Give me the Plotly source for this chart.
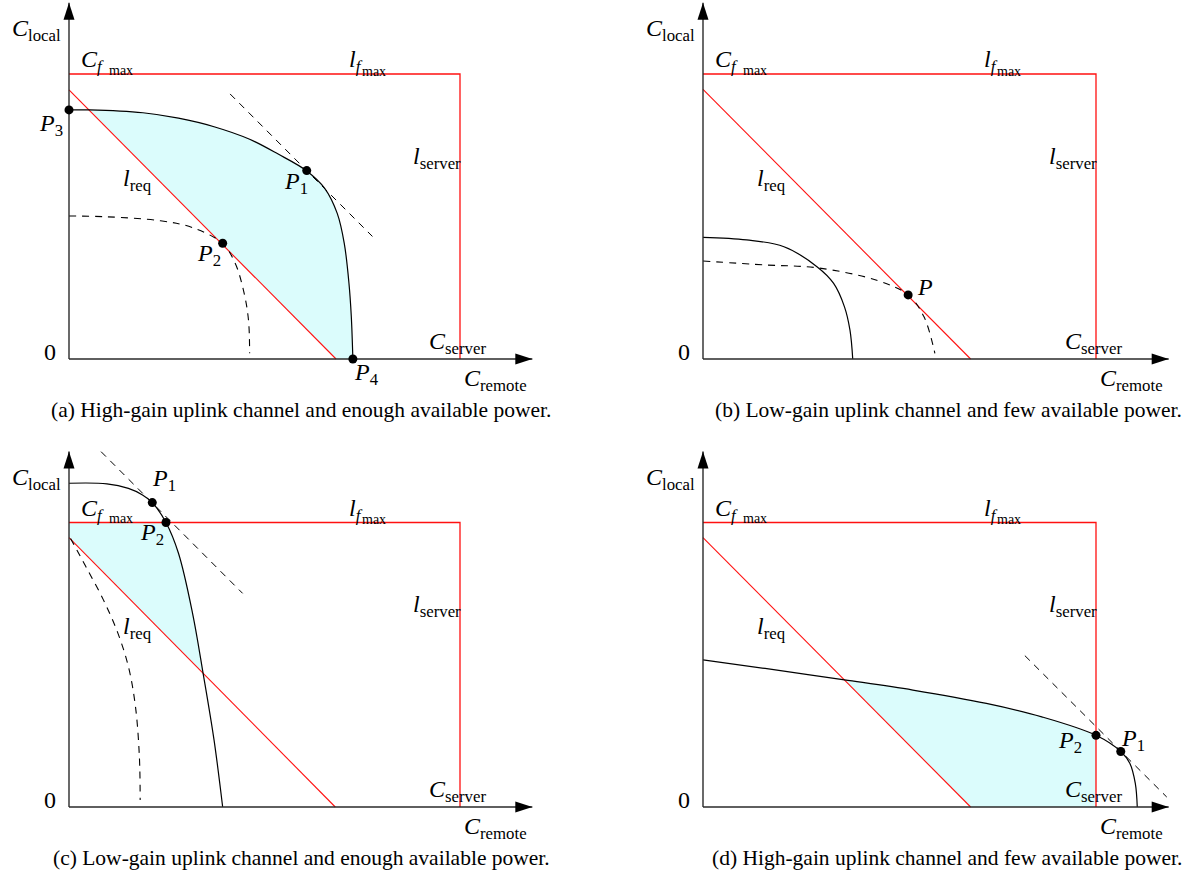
import plotly.graph_objects as go

W, H = 1195, 880

# ---------------- data (normalised units: C_server = 1 on x, C_fmax = 1 on y) ----------------
C_server = 1.0
C_fmax = 1.0
x_axis_end = 1.185
y_axis_end = 1.25

captions = [
    "(a) High-gain uplink channel and enough available power.",
    "(b) Low-gain uplink channel and few available power.",
    "(c) Low-gain uplink channel and enough available power.",
    "(d) High-gain uplink channel and few available power.",
]

# panel (a)
a_req_x = [0.0, 0.683]
a_req_y = [0.944, 0.0]
a_curve_x = [0.0, 0.052, 0.189, 0.280, 0.371, 0.462, 0.535, 0.608, 0.654, 0.686, 0.704, 0.716, 0.722, 0.726]
a_curve_y = [0.874, 0.874, 0.864, 0.845, 0.815, 0.771, 0.719, 0.660, 0.599, 0.511, 0.406, 0.266, 0.149, 0.0]
a_dash_x = [0.0, 0.097, 0.234, 0.316, 0.392, 0.425, 0.448, 0.459, 0.462]
a_dash_y = [0.502, 0.499, 0.485, 0.461, 0.406, 0.336, 0.230, 0.137, 0.020]
a_tan_x = [0.412, 0.776]
a_tan_y = [0.930, 0.430]
a_fill_top_x = a_curve_x[1:]
a_fill_top_y = a_curve_y[1:]
a_fill_base_x = [0.052, 0.683, 0.726]
a_fill_base_y = [0.874, 0.0, 0.0]
a_pt_x = [0.608, 0.393, 0.0, 0.726]
a_pt_y = [0.661, 0.406, 0.874, 0.0]
a_pt_lbl = ["1", "2", "3", "4"]
a_lbl_x = [0.581, 0.358, -0.046, 0.760]
a_lbl_y = [0.618, 0.365, 0.821, -0.053]

# panel (b)
b_req_x = [0.0, 0.681]
b_req_y = [0.946, 0.0]
b_curve_x = [0.0, 0.111, 0.206, 0.290, 0.332, 0.360, 0.374, 0.381]
b_curve_y = [0.427, 0.418, 0.394, 0.324, 0.266, 0.183, 0.101, 0.0]
b_dash_x = [0.0, 0.158, 0.290, 0.440, 0.522, 0.562, 0.590]
b_dash_y = [0.344, 0.330, 0.320, 0.277, 0.225, 0.149, 0.020]
b_pt_x = [0.522]
b_pt_y = [0.225]
b_pt_lbl = [""]
b_lbl_x = [0.565]
b_lbl_y = [0.253]

# panel (c)
c_req_x = [0.0, 0.681]
c_req_y = [0.947, 0.0]
c_curve_x = [0.0, 0.097, 0.152, 0.188, 0.213, 0.248, 0.280, 0.316, 0.343, 0.371, 0.393]
c_curve_y = [1.138, 1.136, 1.120, 1.097, 1.070, 1.000, 0.892, 0.681, 0.470, 0.235, 0.0]
c_dash_x = [0.004, 0.043, 0.088, 0.125, 0.152, 0.170, 0.180, 0.182]
c_dash_y = [0.944, 0.845, 0.728, 0.611, 0.493, 0.353, 0.177, 0.025]
c_tan_x = [0.082, 0.444]
c_tan_y = [1.249, 0.751]
c_fill_top_x = [0.248, 0.280, 0.316, 0.342]
c_fill_top_y = [1.000, 0.892, 0.681, 0.472]
c_fill_base_x = [0.248, 0.0, 0.0, 0.342]
c_fill_base_y = [1.000, 1.000, 0.947, 0.472]
c_pt_x = [0.213, 0.248]
c_pt_y = [1.070, 1.000]
c_pt_lbl = ["1", "2"]
c_lbl_x = [0.243, 0.212]
c_lbl_y = [1.149, 0.960]

# panel (d)
d_req_x = [0.0, 0.681]
d_req_y = [0.947, 0.0]
d_curve_x = [0.0, 0.158, 0.360, 0.534, 0.721, 0.862, 1.0, 1.063, 1.086, 1.100, 1.105]
d_curve_y = [0.517, 0.487, 0.447, 0.411, 0.364, 0.317, 0.252, 0.195, 0.154, 0.083, 0.0]
d_tan_x = [0.819, 1.180]
d_tan_y = [0.532, 0.035]
d_fill_top_x = [0.360, 0.534, 0.721, 0.862, 1.0]
d_fill_top_y = [0.447, 0.411, 0.364, 0.317, 0.252]
d_fill_base_x = [0.360, 0.681, 1.0, 1.0]
d_fill_base_y = [0.447, 0.0, 0.0, 0.252]
d_pt_x = [1.0, 1.063]
d_pt_y = [0.252, 0.195]
d_pt_lbl = ["2", "1"]
d_lbl_x = [0.934, 1.094]
d_lbl_y = [0.228, 0.236]

# ---------------- styling / layout ----------------
SERIF = "Liberation Serif"
FS = 24          # math label size
FS_SS = 14       # second-level subscript size
FS_CAP = 21.5
RED = "#ff1010"
FILL = "#dbfcfc"
AXC = "#2a2a2a"

# panel geometry: origin pixel, pixels per unit, pixel box (x0, x1, y0, y1)
geo = {
    "a": dict(ox=69, oy=359, sx=391, sy=285, box=(0, 560, 0, 420), cap=(301, 410)),
    "b": dict(ox=703, oy=359, sx=393, sy=285, box=(634, 1195, 0, 420), cap=(949, 410)),
    "c": dict(ox=69, oy=807, sx=391, sy=284.5, box=(0, 560, 440, 870), cap=(301, 858)),
    "d": dict(ox=703, oy=807, sx=393, sy=284.5, box=(634, 1195, 440, 870), cap=(947, 858)),
}

panels = {
    "a": dict(req=(a_req_x, a_req_y), curve=(a_curve_x, a_curve_y), dash=(a_dash_x, a_dash_y),
              tan=(a_tan_x, a_tan_y), fill=(a_fill_base_x, a_fill_base_y, a_fill_top_x, a_fill_top_y),
              pts=(a_pt_x, a_pt_y, a_pt_lbl, a_lbl_x, a_lbl_y)),
    "b": dict(req=(b_req_x, b_req_y), curve=(b_curve_x, b_curve_y), dash=(b_dash_x, b_dash_y),
              tan=None, fill=None, pts=(b_pt_x, b_pt_y, b_pt_lbl, b_lbl_x, b_lbl_y)),
    "c": dict(req=(c_req_x, c_req_y), curve=(c_curve_x, c_curve_y), dash=(c_dash_x, c_dash_y),
              tan=(c_tan_x, c_tan_y), fill=(c_fill_base_x, c_fill_base_y, c_fill_top_x, c_fill_top_y),
              pts=(c_pt_x, c_pt_y, c_pt_lbl, c_lbl_x, c_lbl_y)),
    "d": dict(req=(d_req_x, d_req_y), curve=(d_curve_x, d_curve_y), dash=None,
              tan=(d_tan_x, d_tan_y), fill=(d_fill_base_x, d_fill_base_y, d_fill_top_x, d_fill_top_y),
              pts=(d_pt_x, d_pt_y, d_pt_lbl, d_lbl_x, d_lbl_y)),
}

fig = go.Figure()
layout = dict(width=W, height=H, margin=dict(l=0, r=0, t=0, b=0),
              paper_bgcolor="white", plot_bgcolor="white", showlegend=False)
shapes, annotations = [], []

def common(xa, ya):
    return dict(xaxis=xa, yaxis=ya, hoverinfo="skip", showlegend=False)

DASH = "7px,6px"

for i, key in enumerate(["a", "b", "c", "d"]):
    g = geo[key]
    p = panels[key]
    n = "" if i == 0 else str(i + 1)
    xa, ya = "x" + n, "y" + n
    X0, X1, Y0, Y1 = g["box"]
    layout["xaxis" + n] = dict(domain=[X0 / W, X1 / W],
                               range=[(X0 - g["ox"]) / g["sx"], (X1 - g["ox"]) / g["sx"]],
                               visible=False, anchor=ya, fixedrange=True)
    layout["yaxis" + n] = dict(domain=[1 - Y1 / H, 1 - Y0 / H],
                               range=[(g["oy"] - Y1) / g["sy"], (g["oy"] - Y0) / g["sy"]],
                               visible=False, anchor=xa, fixedrange=True)
    c = common(xa, ya)
    # fill region
    if p["fill"]:
        bx, by, tx, ty = p["fill"]
        fig.add_trace(go.Scatter(x=bx, y=by, mode="lines", line=dict(width=0), **c))
        fig.add_trace(go.Scatter(x=tx, y=ty, mode="lines", line=dict(width=0, shape="spline"),
                                 fill="tonexty", fillcolor=FILL, **c))
    # red constraint box
    fig.add_trace(go.Scatter(x=[0, C_server, C_server], y=[C_fmax, C_fmax, 0], mode="lines",
                             line=dict(color=RED, width=1.3), **c))
    # l_req
    fig.add_trace(go.Scatter(x=p["req"][0], y=p["req"][1], mode="lines",
                             line=dict(color=RED, width=1.1), **c))
    # dashed curve
    if p["dash"]:
        fig.add_trace(go.Scatter(x=p["dash"][0], y=p["dash"][1], mode="lines",
                                 line=dict(color="black", width=1.1, dash=DASH, shape="spline"), **c))
    # tangent
    if p["tan"]:
        fig.add_trace(go.Scatter(x=p["tan"][0], y=p["tan"][1], mode="lines",
                                 line=dict(color="black", width=1.0, dash=DASH), **c))
    # solid curve
    fig.add_trace(go.Scatter(x=p["curve"][0], y=p["curve"][1], mode="lines",
                             line=dict(color="black", width=1.2, shape="spline"), **c))
    # axes
    fig.add_trace(go.Scatter(x=[0, x_axis_end], y=[0, 0], mode="lines",
                             line=dict(color=AXC, width=1.4), **c))
    fig.add_trace(go.Scatter(x=[0, 0], y=[0, y_axis_end], mode="lines",
                             line=dict(color=AXC, width=1.4), **c))
    # arrow heads (17 px long, 11 px wide)
    L, hw = 17 / g["sx"], 5.5 / g["sy"]
    shapes.append(dict(type="path", xref=xa, yref=ya, fillcolor="black", line=dict(width=0),
                       path=f"M {x_axis_end},0 L {x_axis_end - L},{hw} L {x_axis_end - L},{-hw} Z"))
    L2, hw2 = 17 / g["sy"], 5.5 / g["sx"]
    shapes.append(dict(type="path", xref=xa, yref=ya, fillcolor="black", line=dict(width=0),
                       path=f"M 0,{y_axis_end} L {hw2},{y_axis_end - L2} L {-hw2},{y_axis_end - L2} Z"))
    # points
    px_, py_, plbl, lx, ly = p["pts"]
    fig.add_trace(go.Scatter(x=px_, y=py_, mode="markers", cliponaxis=False,
                             marker=dict(color="black", size=9), **c))
    for s, x, y in zip(plbl, lx, ly):
        t = "<i>P</i>" + (f"<sub>{s}</sub>" if s else "")
        annotations.append(dict(x=x, y=y, xref=xa, yref=ya, text=t, showarrow=False,
                                xanchor="center", yanchor="middle",
                                font=dict(family=SERIF, size=FS, color="black")))
    # static labels (left-anchored, normalised coords relative to origin)
    labels = [
        ("<i>C</i><sub>local</sub>", -0.150, 1.153, FS),
        ("<i>C</i><sub><i>f</i></sub>", 0.026, 1.045, FS),
        ("max", 0.096, 1.014, FS_SS),
        ("<i>l</i><sub><i>f</i></sub>", 0.711, 1.045, FS),
        ("max", 0.743, 1.009, FS_SS),
        ("<i>l</i><sub>server</sub>", 0.875, 0.707, FS),
        ("<i>l</i><sub>req</sub>", 0.133, 0.628, FS),
        ("<i>C</i><sub>server</sub>", 0.915, 0.056, FS),
        ("<i>C</i><sub>remote</sub>", 1.006, -0.074, FS),
    ]
    for t, x, y, fs in labels:
        annotations.append(dict(x=x, y=y, xref=xa, yref=ya, text=t, showarrow=False,
                                xanchor="left", yanchor="middle",
                                font=dict(family=SERIF, size=fs, color="black")))
    annotations.append(dict(x=-0.049, y=0.025, xref=xa, yref=ya, text="0", showarrow=False,
                            xanchor="center", yanchor="middle",
                            font=dict(family=SERIF, size=FS, color="black")))
    # caption
    cx, cy = g["cap"]
    annotations.append(dict(x=cx / W, y=1 - cy / H, xref="paper", yref="paper", text=captions[i],
                            showarrow=False, xanchor="center", yanchor="middle",
                            font=dict(family=SERIF, size=FS_CAP, color="black")))

layout["shapes"] = shapes
layout["annotations"] = annotations
fig.update_layout(**layout)
fig.write_html("out.html", config={"displayModeBar": False},
               post_script="document.body.style.margin='0';document.body.style.overflow='hidden';")
